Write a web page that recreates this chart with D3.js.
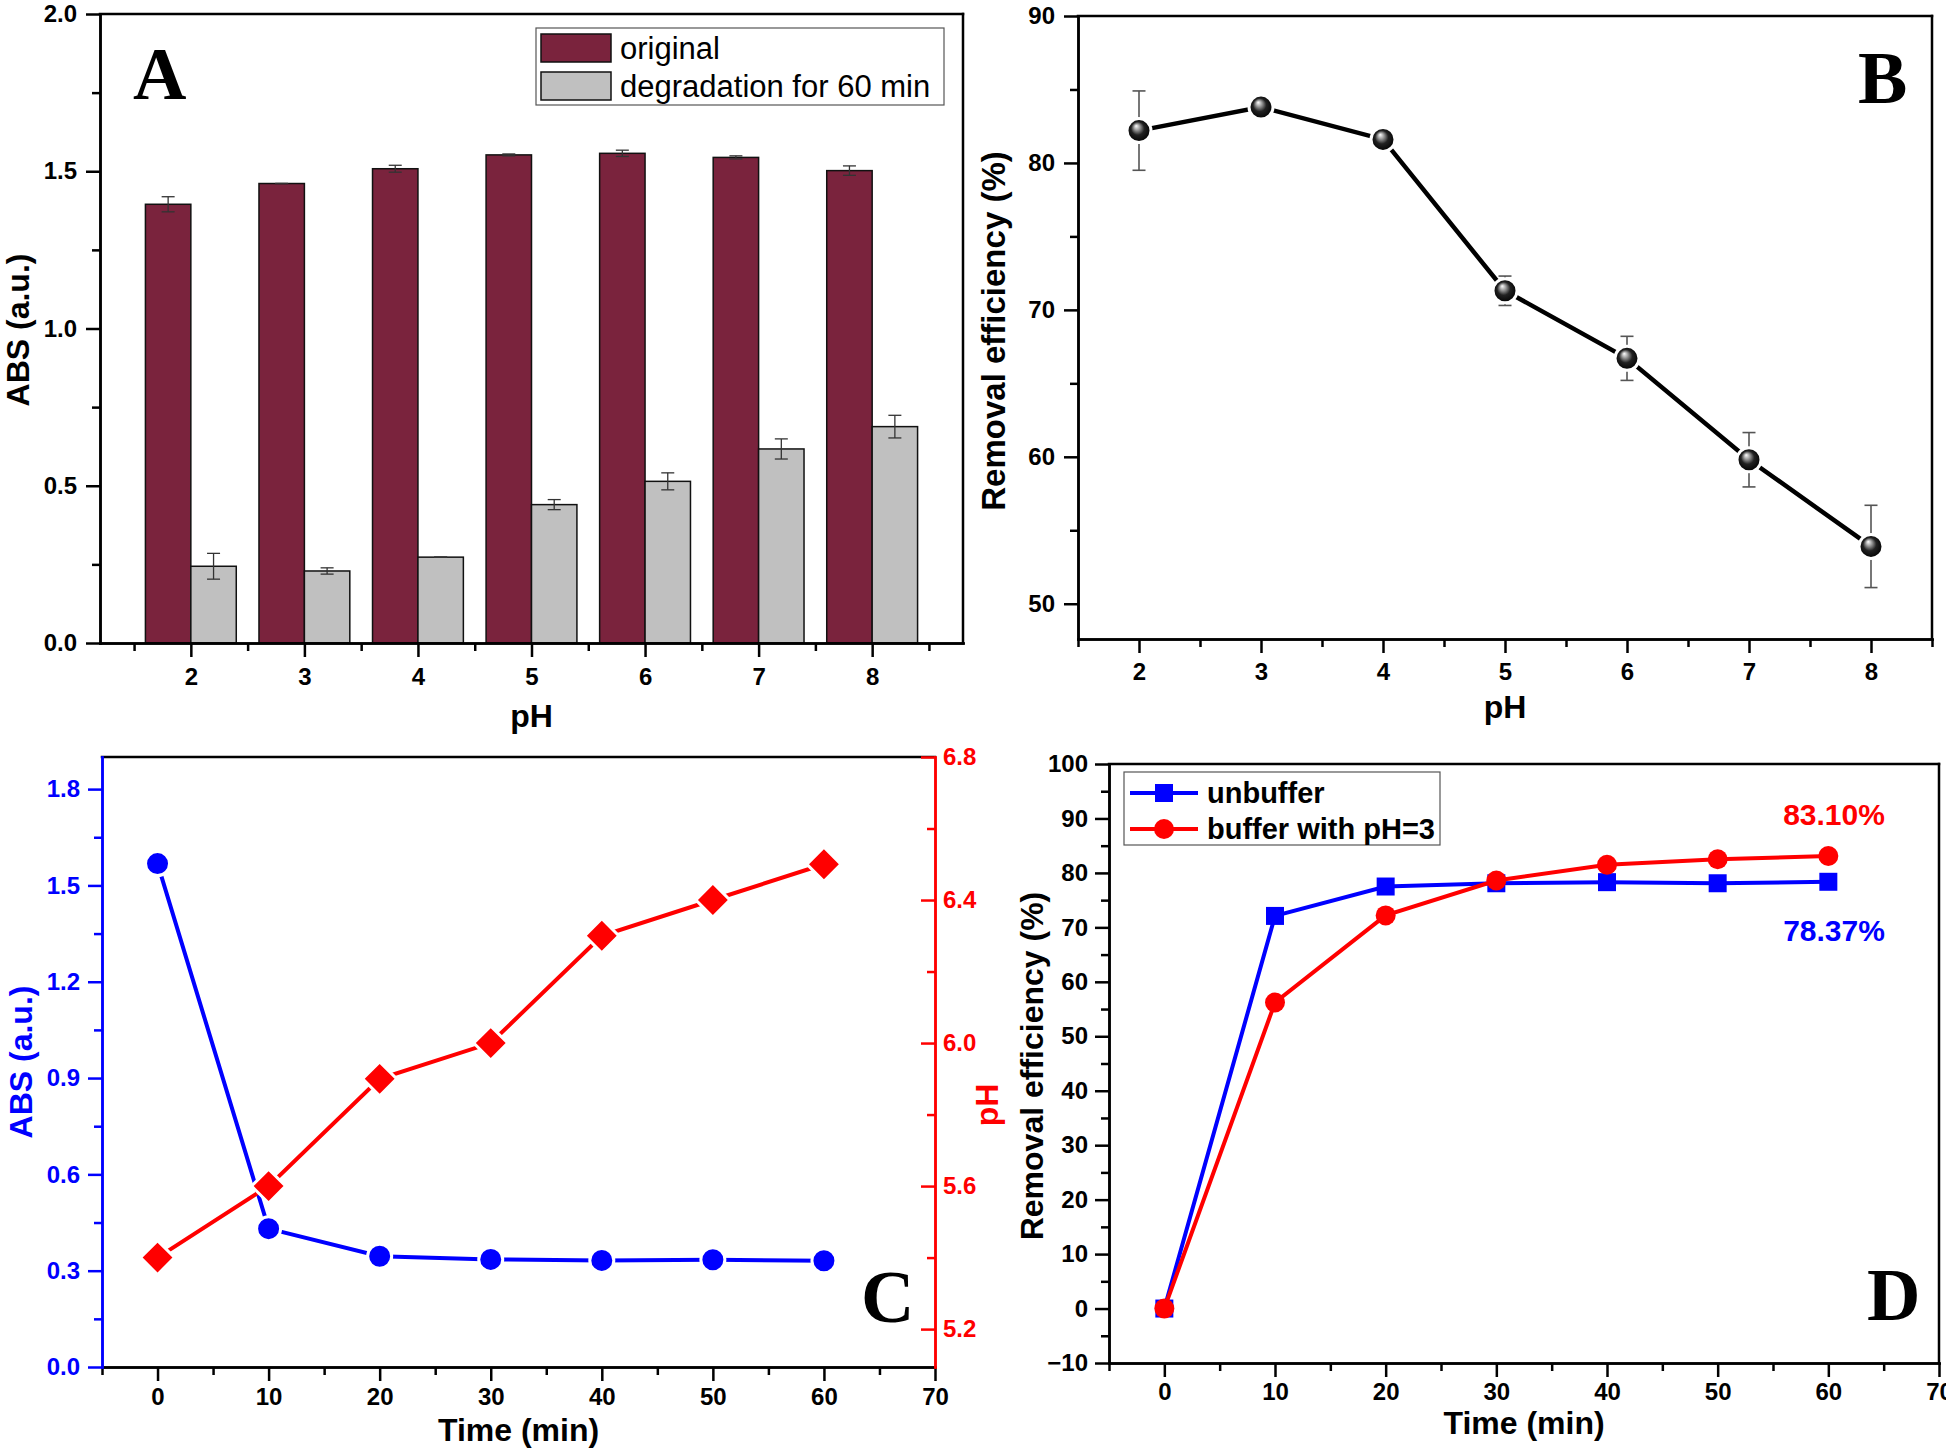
<!DOCTYPE html>
<html>
<head>
<meta charset="utf-8">
<script src="https://cdn.jsdelivr.net/npm/d3@7"></script>
<style>
body { margin: 0; background: #fff; }
svg text { font-family: "Liberation Sans", Arial, sans-serif; }
</style>
</head>
<body>
<svg id="fig" width="1946" height="1451"></svg>
<script>
// ---- panel A : absorbance before / after 60 min, by pH
var phLevels = [2, 3, 4, 5, 6, 7, 8];
var absOriginal = [1.395, 1.461, 1.508, 1.552, 1.557, 1.544, 1.502];
var absOriginalErr = [0.024, 0, 0.011, 0.003, 0.010, 0.005, 0.015];
var absDegraded = [0.244, 0.229, 0.273, 0.440, 0.514, 0.617, 0.688];
var absDegradedErr = [0.041, 0.010, 0, 0.016, 0.027, 0.032, 0.036];
var legendA = ["original", "degradation for 60 min"];

// ---- panel B : removal efficiency by pH
var removalByPH = [82.2, 83.8, 81.6, 71.3, 66.7, 59.8, 53.9];
var removalByPHErr = [2.7, 0.7, 0.2, 1.0, 1.5, 1.85, 2.8];

// ---- panel C : ABS and pH against time
var timeMin = [0, 10, 20, 30, 40, 50, 60];
var absVsTime = [1.568, 0.431, 0.345, 0.335, 0.332, 0.334, 0.331];
var phVsTime = [5.4, 5.6, 5.9, 6.0, 6.3, 6.4, 6.5];

// ---- panel D : removal efficiency against time
var unbuffered = [0, 72.1, 77.5, 78.1, 78.3, 78.1, 78.37];
var bufferedPH3 = [0, 56.2, 72.2, 78.6, 81.5, 82.5, 83.10];
var legendD = ["unbuffer", "buffer with pH=3"];
var endLabels = ["83.10%", "78.37%"];

var BLUE = "#0000ff", RED = "#ff0000", WINE = "#7a233d", GREY = "#c0c0c0";
var AXIS_W = 2.5;

var svg = d3.select("#fig");

var defs = svg.append("defs");
var grad = defs.append("radialGradient").attr("id", "sphere")
	.attr("cx", "50%").attr("cy", "50%").attr("r", "50%")
	.attr("fx", "38%").attr("fy", "30%");
grad.append("stop").attr("offset", "0%").attr("stop-color", "#ffffff");
grad.append("stop").attr("offset", "22%").attr("stop-color", "#aaaaaa");
grad.append("stop").attr("offset", "55%").attr("stop-color", "#222222");
grad.append("stop").attr("offset", "100%").attr("stop-color", "#000000");


// major + minor ticks on one side
function addAxis(axisFn, scale, majors, minors, o) {
	var g = svg.append("g").attr("transform", o.translate);
	var sign = o.inward ? -1 : 1;
	g.append("g").call(axisFn(scale).tickValues(minors).tickSize(sign * 8).tickSizeOuter(0).tickFormat(""));
	g.append("g").call(axisFn(scale).tickValues(majors).tickSize(sign * 14).tickSizeOuter(0)
		.tickPadding(o.pad).tickFormat(o.fmt));
	g.selectAll("path.domain").attr("stroke", o.color).attr("stroke-width", AXIS_W)
		.attr("stroke-linecap", "square");
	g.selectAll(".tick line").attr("stroke", o.color).attr("stroke-width", AXIS_W);
	g.selectAll(".tick text").attr("fill", o.color)
		.style("font-family", "'Liberation Sans', Arial, sans-serif")
		.style("font-weight", "bold").style("font-size", "24px");
	return g;
}

function border(x1, y1, x2, y2, color) {
	svg.append("line").attr("x1", x1).attr("y1", y1).attr("x2", x2).attr("y2", y2)
		.attr("stroke", color || "#000").attr("stroke-width", AXIS_W).attr("stroke-linecap", "square");
}

function title(txt, x, y, size, color, rotate) {
	svg.append("text")
		.attr("transform", "translate(" + x + "," + y + ")" + (rotate ? " rotate(-90)" : ""))
		.attr("text-anchor", "middle")
		.attr("fill", color || "#000")
		.style("font-weight", "bold").style("font-size", size + "px")
		.text(txt);
}

function panelLetter(txt, x, y) {
	svg.append("text").attr("x", x).attr("y", y)
		.style("font-family", "'Liberation Serif', 'Times New Roman', serif")
		.style("font-weight", "bold").style("font-size", "74px")
		.text(txt);
}

function range(a, b, step) {
	return d3.range(Math.round((b - a) / step) + 1).map(function(i) { return +(a + i * step).toFixed(4); });
}

function errorBars(g, xs, ys, errs, xScale, yScale, color, width) {
	xs.forEach(function(xv, i) {
		var cx = xScale(xv), lo = yScale(ys[i] - errs[i]), hi = yScale(ys[i] + errs[i]);
		g.append("line").attr("x1", cx).attr("x2", cx).attr("y1", lo).attr("y2", hi)
			.attr("stroke", color).attr("stroke-width", width);
		[lo, hi].forEach(function(yy) {
			g.append("line").attr("x1", cx - 6.5).attr("x2", cx + 6.5).attr("y1", yy).attr("y2", yy)
				.attr("stroke", color).attr("stroke-width", width);
		});
	});
}


// ================= A =================
(function() {
	var L = 100, R = 963, T = 14, B = 643;
	var x = d3.scaleLinear().domain([1.2, 8.8]).range([L, R]);
	var y = d3.scaleLinear().domain([0, 2]).range([B, T]);
	var bw = 0.4;

	var bars = svg.append("g");
	bars.selectAll("rect.orig").data(phLevels).enter().append("rect")
		.attr("x", function(d) { return x(d - bw); })
		.attr("width", x(bw) - x(0))
		.attr("y", function(d, i) { return y(absOriginal[i]); })
		.attr("height", function(d, i) { return B - y(absOriginal[i]); })
		.attr("fill", WINE).attr("stroke", "#111").attr("stroke-width", 1.5);
	bars.selectAll("rect.deg").data(phLevels).enter().append("rect")
		.attr("x", function(d) { return x(d); })
		.attr("width", x(bw) - x(0))
		.attr("y", function(d, i) { return y(absDegraded[i]); })
		.attr("height", function(d, i) { return B - y(absDegraded[i]); })
		.attr("fill", GREY).attr("stroke", "#111").attr("stroke-width", 1.5);

	var eb = svg.append("g");
	errorBars(eb, phLevels.map(function(d) { return d - bw / 2; }), absOriginal, absOriginalErr, x, y, "#333", 1.3);
	errorBars(eb, phLevels.map(function(d) { return d + bw / 2; }), absDegraded, absDegradedErr, x, y, "#333", 1.3);

	border(L, T, R, T);
	border(R, T, R, B);
	addAxis(d3.axisLeft, y, range(0, 2, 0.5), range(0.25, 1.75, 0.5),
		{ translate: "translate(" + L + ",0)", pad: 9, fmt: d3.format(".1f"), color: "#000" });
	addAxis(d3.axisBottom, x, phLevels, range(1.5, 8.5, 1),
		{ translate: "translate(0," + B + ")", pad: 11, fmt: d3.format("d"), color: "#000" });

	// legend
	var lg = svg.append("g");
	lg.append("rect").attr("x", 536).attr("y", 28).attr("width", 408).attr("height", 77)
		.attr("fill", "#fff").attr("stroke", "#555").attr("stroke-width", 1.2);
	[WINE, GREY].forEach(function(c, i) {
		lg.append("rect").attr("x", 541).attr("y", 34 + i * 38).attr("width", 70).attr("height", 28)
			.attr("fill", c).attr("stroke", "#111").attr("stroke-width", 1.5);
		lg.append("text").attr("x", 620).attr("y", 59 + i * 37.5)
			.style("font-size", "31px").text(legendA[i]);
	});

	title("ABS (a.u.)", 29, 330, 32, "#000", true);
	title("pH", (L + R) / 2, 727, 32);
	panelLetter("A", 133, 99);
})();


// ================= B =================
(function() {
	var L = 1078, R = 1932, T = 16, B = 639;
	var x = d3.scaleLinear().domain([1.5, 8.5]).range([L, R]);
	var y = d3.scaleLinear().domain([47.6, 90]).range([B, T]);

	border(L, T, R, T);
	border(R, T, R, B);
	addAxis(d3.axisLeft, y, range(50, 90, 10), range(55, 85, 10),
		{ translate: "translate(" + L + ",0)", pad: 9, fmt: d3.format("d"), color: "#000" });
	addAxis(d3.axisBottom, x, phLevels, range(1.5, 8.5, 1),
		{ translate: "translate(0," + B + ")", pad: 10, fmt: d3.format("d"), color: "#000" });

	var g = svg.append("g");
	errorBars(g, phLevels, removalByPH, removalByPHErr, x, y, "#555", 1.6);
	var line = d3.line().x(function(d, i) { return x(phLevels[i]); }).y(function(d) { return y(d); });
	g.append("path").datum(removalByPH).attr("d", line)
		.attr("fill", "none").attr("stroke", "#000").attr("stroke-width", 4.5);
	g.selectAll("circle").data(removalByPH).enter().append("circle")
		.attr("cx", function(d, i) { return x(phLevels[i]); })
		.attr("cy", function(d) { return y(d); })
		.attr("r", 12).attr("fill", "url(#sphere)")
		.attr("stroke", "#fff").attr("stroke-width", 3);

	title("Removal efficiency (%)", 1005, 331, 33, "#000", true);
	title("pH", (L + R) / 2, 718, 32);
	panelLetter("B", 1858, 103);
})();


// ================= C =================
(function() {
	var L = 102, R = 935, T = 757, B = 1367;
	var x = d3.scaleLinear().domain([-5, 70]).range([L, R]);
	var yAbs = d3.scaleLinear().domain([0, 1.9]).range([B, T]);
	var yPH = d3.scaleLinear().domain([5.094, 6.8]).range([B, T]);

	border(L, T, R, T);
	addAxis(d3.axisBottom, x, range(0, 70, 10), range(-5, 65, 10),
		{ translate: "translate(0," + B + ")", pad: 7, fmt: d3.format("d"), color: "#000" });
	addAxis(d3.axisLeft, yAbs, range(0, 1.8, 0.3), range(0.15, 1.65, 0.3),
		{ translate: "translate(" + L + ",0)", pad: 8, fmt: d3.format(".1f"), color: BLUE });
	addAxis(d3.axisRight, yPH, range(5.2, 6.8, 0.4), range(5.4, 6.6, 0.4),
		{ translate: "translate(" + R + ",0)", pad: 8, fmt: d3.format(".1f"), color: RED, inward: true });

	var g = svg.append("g");
	var lineAbs = d3.line().x(function(d, i) { return x(timeMin[i]); }).y(function(d) { return yAbs(d); });
	var linePH = d3.line().x(function(d, i) { return x(timeMin[i]); }).y(function(d) { return yPH(d); });

	g.append("path").datum(absVsTime).attr("d", lineAbs)
		.attr("fill", "none").attr("stroke", BLUE).attr("stroke-width", 4);
	g.selectAll("circle").data(absVsTime).enter().append("circle")
		.attr("cx", function(d, i) { return x(timeMin[i]); })
		.attr("cy", function(d) { return yAbs(d); })
		.attr("r", 12).attr("fill", BLUE).attr("stroke", "#fff").attr("stroke-width", 3);

	g.append("path").datum(phVsTime).attr("d", linePH)
		.attr("fill", "none").attr("stroke", RED).attr("stroke-width", 4);
	var diamond = d3.symbol().type(d3.symbolSquare).size(580);
	g.selectAll("path.dia").data(phVsTime).enter().append("path")
		.attr("class", "dia")
		.attr("d", diamond)
		.attr("transform", function(d, i) {
			return "translate(" + x(timeMin[i]) + "," + yPH(d) + ") rotate(45)";
		})
		.attr("fill", RED).attr("stroke", "#fff").attr("stroke-width", 3);

	title("ABS (a.u.)", 32, 1062, 32, BLUE, true);
	title("pH", 998, 1105, 32, RED, true);
	title("Time (min)", (L + R) / 2, 1441, 32);
	panelLetter("C", 861, 1322);
})();


// ================= D =================
(function() {
	var L = 1109, R = 1939, T = 764, B = 1363;
	var x = d3.scaleLinear().domain([-5, 70]).range([L, R]);
	var y = d3.scaleLinear().domain([-10, 100]).range([B, T]);

	border(L, T, R, T);
	border(R, T, R, B);
	addAxis(d3.axisBottom, x, range(0, 70, 10), range(-5, 65, 10),
		{ translate: "translate(0," + B + ")", pad: 6, fmt: d3.format("d"), color: "#000" });
	addAxis(d3.axisLeft, y, range(-10, 100, 10), range(-5, 95, 10),
		{ translate: "translate(" + L + ",0)", pad: 7, fmt: d3.format("d"), color: "#000" });

	var g = svg.append("g");
	var line = d3.line().x(function(d, i) { return x(timeMin[i]); }).y(function(d) { return y(d); });
	var square = d3.symbol().type(d3.symbolSquare).size(18 * 18);

	g.append("path").datum(unbuffered).attr("d", line)
		.attr("fill", "none").attr("stroke", BLUE).attr("stroke-width", 4);
	g.selectAll("path.sq").data(unbuffered).enter().append("path")
		.attr("class", "sq").attr("d", square)
		.attr("transform", function(d, i) { return "translate(" + x(timeMin[i]) + "," + y(d) + ")"; })
		.attr("fill", BLUE);

	g.append("path").datum(bufferedPH3).attr("d", line)
		.attr("fill", "none").attr("stroke", RED).attr("stroke-width", 4);
	g.selectAll("circle").data(bufferedPH3).enter().append("circle")
		.attr("cx", function(d, i) { return x(timeMin[i]); })
		.attr("cy", function(d) { return y(d); })
		.attr("r", 10).attr("fill", RED);

	// legend
	var lg = svg.append("g");
	lg.append("rect").attr("x", 1124).attr("y", 772).attr("width", 316).attr("height", 73)
		.attr("fill", "#fff").attr("stroke", "#555").attr("stroke-width", 1.2);
	[BLUE, RED].forEach(function(c, i) {
		var yy = 793 + i * 36;
		lg.append("line").attr("x1", 1130).attr("x2", 1198).attr("y1", yy).attr("y2", yy)
			.attr("stroke", c).attr("stroke-width", 4);
		if (i === 0) {
			lg.append("path").attr("d", square).attr("transform", "translate(1164," + yy + ")").attr("fill", c);
		} else {
			lg.append("circle").attr("cx", 1164).attr("cy", yy).attr("r", 10).attr("fill", c);
		}
		lg.append("text").attr("x", 1207).attr("y", yy + 9.5)
			.style("font-weight", "bold").style("font-size", "29px").text(legendD[i]);
	});

	// end values
	svg.append("text").attr("x", 1834).attr("y", 825).attr("text-anchor", "middle")
		.attr("fill", RED).style("font-weight", "bold").style("font-size", "30px").text(endLabels[0]);
	svg.append("text").attr("x", 1834).attr("y", 941).attr("text-anchor", "middle")
		.attr("fill", BLUE).style("font-weight", "bold").style("font-size", "30px").text(endLabels[1]);

	title("Removal efficiency (%)", 1043, 1066, 32, "#000", true);
	title("Time (min)", (L + R) / 2, 1434, 32);
	panelLetter("D", 1867, 1320);
})();
</script>
</body>
</html>
